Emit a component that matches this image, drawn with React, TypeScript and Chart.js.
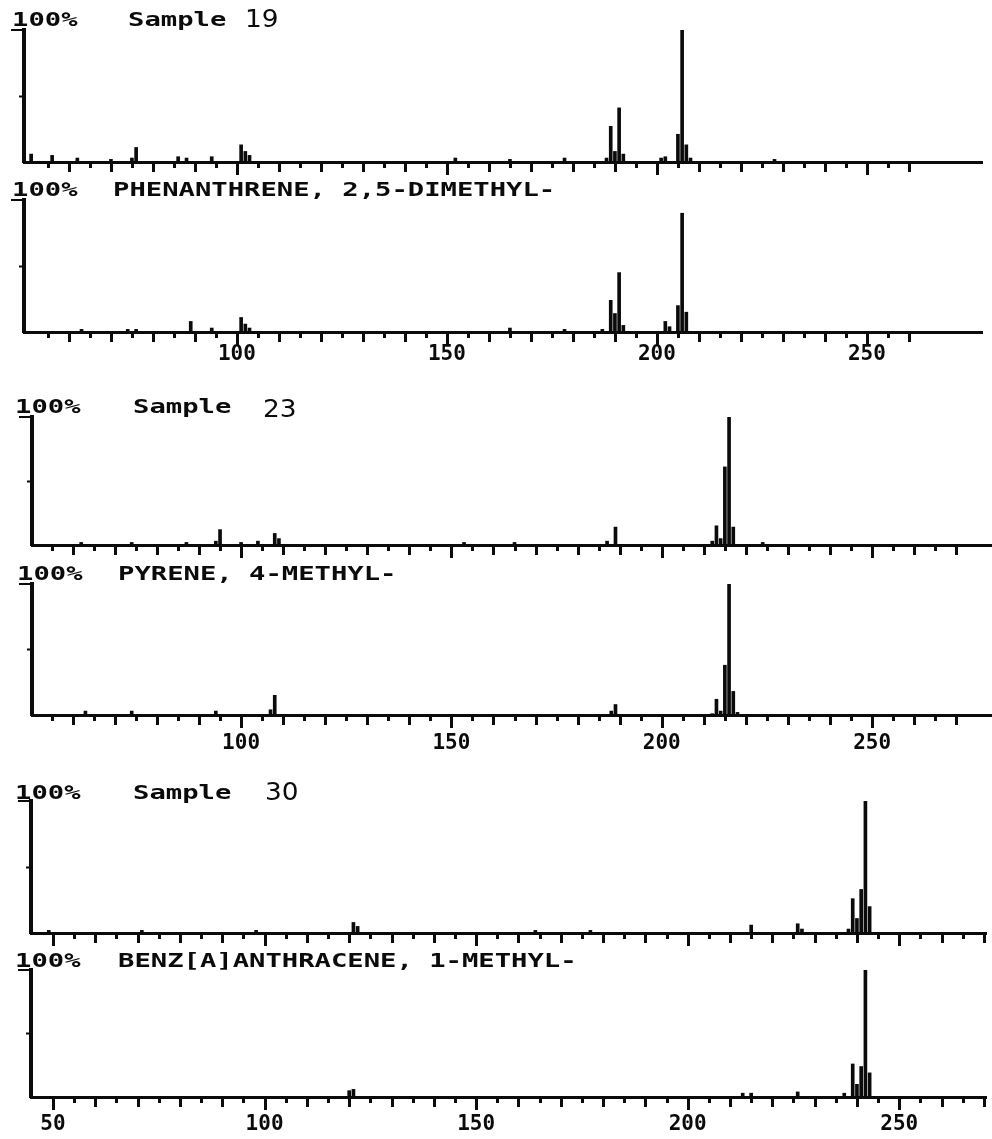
import React, { useEffect, useRef } from 'react';
import { Chart, registerables } from 'chart.js';

Chart.register(...registerables);

const W = 992;
const H = 1139;
const INK = '#0b0b0b';
const AXIS_H = 60;

// ---- Sample 19 / Phenanthrene, 2,5-dimethyl- ----
const s19Mz = [51, 56, 62, 70, 75, 76, 86, 88, 94, 101, 102, 103, 152, 165, 178, 188, 189, 190, 191, 192, 201, 202, 205, 206, 207, 208, 228];
const s19Int = [6, 5, 3, 2, 3, 11, 4, 3, 4, 13, 8, 5, 3, 2, 3, 3, 27, 8, 41, 6, 3, 4, 21, 100, 13, 3, 2];
const ref19Mz = [63, 74, 76, 89, 94, 101, 102, 103, 165, 178, 187, 189, 190, 191, 192, 202, 203, 205, 206, 207];
const ref19Int = [2, 2, 2, 8, 3, 11, 6, 3, 3, 2, 2, 24, 14, 45, 5, 8, 4, 20, 90, 15];

// ---- Sample 23 / Pyrene, 4-methyl- ----
const s23Mz = [62, 74, 87, 94, 95, 100, 104, 108, 109, 153, 165, 187, 189, 212, 213, 214, 215, 216, 217, 224];
const s23Int = [2, 2, 2, 3, 12, 2, 3, 9, 5, 2, 2, 3, 14, 3, 15, 5, 61, 100, 14, 2];
const ref23Mz = [63, 74, 94, 107, 108, 188, 189, 212, 213, 214, 215, 216, 217, 218];
const ref23Int = [3, 3, 3, 4, 15, 3, 8, 1, 12, 3, 38, 100, 18, 2];

// ---- Sample 30 / Benz[a]anthracene, 1-methyl- ----
const s30Mz = [49, 71, 98, 121, 122, 164, 177, 215, 226, 227, 238, 239, 240, 241, 242, 243];
const s30Int = [2, 2, 2, 8, 5, 2, 2, 6, 7, 3, 3, 26, 11, 33, 100, 20];
const ref30Mz = [120, 121, 213, 215, 226, 237, 239, 240, 241, 242, 243];
const ref30Int = [5, 6, 3, 3, 4, 3, 26, 10, 24, 100, 19];

// ---- axis tick labels ----
const pair1Labels = [100, 150, 200, 250];
const pair2Labels = [100, 150, 200, 250];
const pair3Labels = [50, 100, 150, 200, 250];

const TITLE_FONT = 'bold 20px "DejaVu Sans Mono"';
const NUM_FONT = '24px "DejaVu Sans"';

type Part = { text: string; x: number; num?: boolean; dy?: number };
type Panel = {
  key: string;
  mz: number[];
  inten: number[];
  xMin: number;
  xMax: number;
  left: number;
  right: number;
  top: number;
  bottom: number;
  tickFrom: number;
  tickTo: number;
  labels: number[];
  labelPad: number;
  titleY: number;
  parts: Part[];
};

const PANELS: Panel[] = [
  {
    key: 'p1a', mz: s19Mz, inten: s19Int, xMin: 49.3, xMax: 277.4, left: 24, right: 982, top: 30, bottom: 162,
    tickFrom: 55, tickTo: 260, labels: [], labelPad: 0, titleY: 26,
    parts: [{ text: '100%', x: 12 }, { text: 'Sample', x: 128 }, { text: '19', x: 245, num: true, dy: 1 }],
  },
  {
    key: 'p1b', mz: ref19Mz, inten: ref19Int, xMin: 49.3, xMax: 277.4, left: 24, right: 982, top: 200, bottom: 332,
    tickFrom: 55, tickTo: 260, labels: pair1Labels, labelPad: 10, titleY: 196,
    parts: [{ text: '100%', x: 12 }, { text: 'PHENANTHRENE, 2,5-DIMETHYL-', x: 113 }],
  },
  {
    key: 'p2a', mz: s23Mz, inten: s23Int, xMin: 50.3, xMax: 278.5, left: 32, right: 992, top: 417, bottom: 545,
    tickFrom: 55, tickTo: 270, labels: [], labelPad: 0, titleY: 413,
    parts: [{ text: '100%', x: 15 }, { text: 'Sample', x: 133 }, { text: '23', x: 263, num: true, dy: 4 }],
  },
  {
    key: 'p2b', mz: ref23Mz, inten: ref23Int, xMin: 50.3, xMax: 278.5, left: 32, right: 992, top: 584, bottom: 715,
    tickFrom: 55, tickTo: 270, labels: pair2Labels, labelPad: 16, titleY: 580,
    parts: [{ text: '100%', x: 17 }, { text: 'PYRENE, 4-METHYL-', x: 118 }],
  },
  {
    key: 'p3a', mz: s30Mz, inten: s30Int, xMin: 44.8, xMax: 270.5, left: 31, right: 986, top: 801, bottom: 933,
    tickFrom: 50, tickTo: 270, labels: [], labelPad: 0, titleY: 799,
    parts: [{ text: '100%', x: 15 }, { text: 'Sample', x: 133 }, { text: '30', x: 265, num: true, dy: 1 }],
  },
  {
    key: 'p3b', mz: ref30Mz, inten: ref30Int, xMin: 44.8, xMax: 270.5, left: 31, right: 986, top: 970, bottom: 1097,
    tickFrom: 50, tickTo: 270, labels: pair3Labels, labelPad: 15, titleY: 967,
    parts: [{ text: '100%', x: 15 }, { text: 'BENZ[A]ANTHRACENE, 1-METHYL-', x: 118 }],
  },
];

function SpectrumPanel({ panel }: { panel: Panel }) {
  const ref = useRef<HTMLCanvasElement | null>(null);

  useEffect(() => {
    const p = panel;
    if (!ref.current) return;
    const hasLabels = p.labels.length > 0;
    const axisH = hasLabels ? AXIS_H : 0;

    const minorTicks = {
      id: 'msTicks',
      afterDraw(chart: any) {
        const ctx = chart.ctx;
        const xs = chart.scales.x;
        const y0 = chart.chartArea.bottom;
        ctx.save();
        ctx.strokeStyle = INK;
        ctx.lineWidth = 3;
        for (let v = p.tickFrom; v <= p.tickTo; v += 5) {
          const px = Math.round(xs.getPixelForValue(v)) + 0.5;
          const len = v % 50 === 0 ? 13 : v % 10 === 0 ? 10 : 6;
          ctx.beginPath();
          ctx.moveTo(px, y0);
          ctx.lineTo(px, y0 + len);
          ctx.stroke();
        }
        ctx.restore();
      },
    };

    const title = {
      id: 'panelTitle',
      afterDraw(chart: any) {
        const ctx = chart.ctx;
        const { left, top } = chart.chartArea;
        ctx.save();
        ctx.fillStyle = INK;
        ctx.strokeStyle = INK;
        ctx.lineWidth = 2;
        ctx.beginPath();
        ctx.moveTo(left - 13, top);
        ctx.lineTo(left, top);
        ctx.stroke();
        ctx.textAlign = 'left';
        ctx.textBaseline = 'alphabetic';
        for (const part of p.parts) {
          ctx.save();
          ctx.font = part.num ? NUM_FONT : TITLE_FONT;
          ctx.translate(part.x, p.titleY + (part.dy || 0));
          ctx.scale(part.num ? 1.1 : 1.36, 1);
          ctx.fillText(part.text, 0, 0);
          ctx.restore();
        }
        ctx.restore();
      },
    };

    const chart = new Chart(ref.current, {
      type: 'bar',
      data: {
        datasets: [
          {
            data: p.mz.map((m, i) => ({ x: m, y: p.inten[i] })),
            backgroundColor: INK,
            borderWidth: 0,
            barThickness: 3,
          } as any,
        ],
      },
      options: {
        responsive: false,
        animation: false,
        devicePixelRatio: 1,
        events: [],
        layout: {
          padding: { left: p.left, right: W - p.right, top: p.top, bottom: H - p.bottom - axisH },
        },
        plugins: {
          legend: { display: false },
          tooltip: { enabled: false },
          title: { display: false },
        },
        scales: {
          x: {
            type: 'linear',
            min: p.xMin,
            max: p.xMax,
            offset: false,
            grid: { display: false, drawTicks: false, offset: false },
            border: { display: true, color: INK, width: 3 },
            ticks: {
              display: hasLabels,
              color: INK,
              padding: p.labelPad,
              maxRotation: 0,
              minRotation: 0,
              autoSkip: false,
              font: { family: '"DejaVu Sans Mono"', size: 21, weight: 'bold' },
            },
            afterBuildTicks: (s: any) => {
              s.ticks = p.labels.map((v) => ({ value: v }));
            },
            afterFit: (s: any) => {
              s.height = axisH;
            },
          },
          y: {
            min: 0,
            max: 100,
            ticks: { display: false, stepSize: 50 },
            grid: {
              display: true,
              drawOnChartArea: false,
              drawTicks: true,
              tickLength: 5,
              tickWidth: 2,
              tickColor: (c: any) => (c.tick && c.tick.value === 50 ? INK : 'rgba(0,0,0,0)'),
            },
            border: { display: true, color: INK, width: 4 },
            afterFit: (s: any) => {
              s.width = 0;
            },
          },
        },
      } as any,
      plugins: [minorTicks, title],
    });

    return () => chart.destroy();
  }, [panel]);

  return (
    <canvas
      ref={ref}
      width={W}
      height={H}
      style={{ position: 'absolute', left: 0, top: 0, width: W, height: H }}
    />
  );
}

export default function App() {
  return (
    <div style={{ position: 'absolute', left: 0, top: 0, width: W, height: H, background: '#ffffff' }}>
      {PANELS.map((p) => (
        <SpectrumPanel key={p.key} panel={p} />
      ))}
    </div>
  );
}
